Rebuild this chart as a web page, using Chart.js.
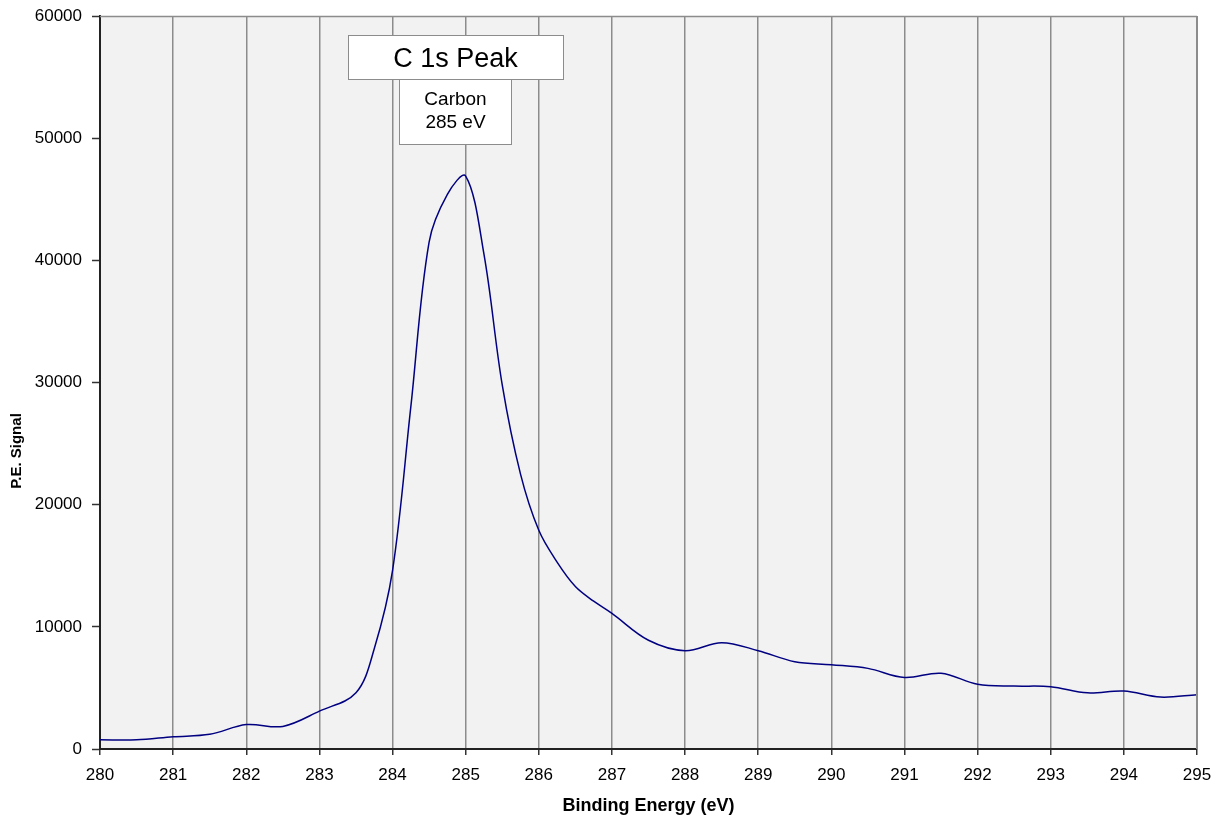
<!DOCTYPE html>
<html>
<head>
<meta charset="utf-8">
<script src="https://cdn.jsdelivr.net/npm/chart.js@4/dist/chart.umd.min.js"></script>
<style>
  html, body { margin: 0; padding: 0; background: #fff; }
  #wrap { width: 1214px; height: 818px; }
</style>
</head>
<body>
<div id="wrap"><canvas id="chart" width="1214" height="818"></canvas></div>
<script>
// binding energy (eV) and photo-electron signal
const energies = [280, 280.5, 281, 281.5, 282, 282.5, 283, 283.5, 283.75, 284, 284.25, 284.5, 284.75, 285,
  285.25, 285.5, 285.75, 286, 286.25, 286.5, 286.75, 287, 287.5, 288, 288.5, 289, 289.5, 290, 290.5,
  291, 291.5, 292, 292.5, 293, 293.5, 294, 294.5, 295];
const signal = [750, 750, 1000, 1200, 2000, 1850, 3100, 4600, 8200, 14600, 28000, 41500, 45400, 46900,
  40500, 29800, 22500, 17900, 15300, 13300, 12100, 11100, 8900, 8050, 8700, 8050, 7150, 6900, 6600,
  5850, 6200, 5300, 5150, 5100, 4600, 4750, 4250, 4450];
const xTicks = [280, 281, 282, 283, 284, 285, 286, 287, 288, 289, 290, 291, 292, 293, 294, 295];
const yTicks = [0, 10000, 20000, 30000, 40000, 50000, 60000];
const peakTitle = 'C 1s Peak';
const peakLabel = ['Carbon', '285 eV'];
const yTitle = 'P.E. Signal';

const FONT = "'Liberation Sans', Arial, Helvetica, sans-serif";

const plotBg = {
  id: 'plotBg',
  beforeDraw(chart) {
    const { ctx, chartArea: a } = chart;
    ctx.save();
    ctx.fillStyle = '#f2f2f2';
    ctx.fillRect(a.left, a.top, a.right - a.left, a.bottom - a.top);
    ctx.restore();
  },
  afterDraw(chart) {
    const { ctx, chartArea: a } = chart;
    ctx.save();
    ctx.strokeStyle = '#8c8c8c';
    ctx.lineWidth = 1.5;
    ctx.beginPath();
    ctx.moveTo(a.left, a.top + 0.5);
    ctx.lineTo(a.right, a.top + 0.5);
    ctx.stroke();
    ctx.lineWidth = 2;
    ctx.beginPath();
    ctx.moveTo(a.right, a.top);
    ctx.lineTo(a.right, a.bottom);
    ctx.stroke();

    // label boxes
    ctx.lineWidth = 1;
    ctx.strokeStyle = '#8c8c8c';
    ctx.fillStyle = '#fff';
    ctx.fillRect(399.5, 79.5, 112, 65);
    ctx.strokeRect(399.5, 79.5, 112, 65);
    ctx.fillRect(348.5, 35.5, 215, 44);
    ctx.strokeRect(348.5, 35.5, 215, 44);
    ctx.fillStyle = '#000';
    ctx.textAlign = 'center';
    ctx.textBaseline = 'alphabetic';
    ctx.font = '27px ' + FONT;
    ctx.fillText(peakTitle, 455.5, 67);
    ctx.font = '19px ' + FONT;
    ctx.fillText(peakLabel[0], 455.5, 105);
    ctx.fillText(peakLabel[1], 455.5, 128);

    // y axis title sits below the middle in the original
    ctx.translate(17, 451);
    ctx.rotate(-Math.PI / 2);
    ctx.textBaseline = 'middle';
    ctx.font = 'bold 15px ' + FONT;
    ctx.fillText(yTitle, 0, 0);
    ctx.restore();
  }
};

new Chart(document.getElementById('chart'), {
  type: 'line',
  data: {
    datasets: [{
      data: energies.map((e, i) => ({ x: e, y: signal[i] })),
      borderColor: '#000080',
      borderWidth: 1.5,
      pointRadius: 0,
      tension: 0.35,
      fill: false
    }]
  },
  options: {
    responsive: false,
    animation: false,
    layout: { padding: { top: 16, right: 17, left: 0, bottom: 0 } },
    plugins: { legend: { display: false }, tooltip: { enabled: false } },
    scales: {
      x: {
        type: 'linear',
        min: 280,
        max: 295,
        afterFit: s => { s.height = 69; s.paddingLeft = 0; s.paddingRight = 0; },
        afterBuildTicks: s => { s.ticks = xTicks.map(v => ({ value: v })); },
        grid: { color: '#8c8c8c', lineWidth: 1.5, tickLength: 6, tickColor: '#333', tickWidth: 1.5 },
        border: { color: '#222', width: 2 },
        ticks: { color: '#000', font: { family: FONT, size: 17 }, padding: 10, maxRotation: 0 },
        title: {
          display: true,
          text: 'Binding Energy (eV)',
          color: '#000',
          font: { family: FONT, size: 18, weight: 'bold' },
          padding: { top: 0, bottom: 1 }
        }
      },
      y: {
        min: 0,
        max: 60000,
        afterFit: s => { s.width = 100; s.paddingTop = 0; s.paddingBottom = 0; },
        afterBuildTicks: s => { s.ticks = yTicks.map(v => ({ value: v })); },
        grid: { drawOnChartArea: false, tickLength: 8, tickColor: '#333', tickWidth: 1.5 },
        border: { color: '#222', width: 2 },
        ticks: { color: '#000', font: { family: FONT, size: 17 }, padding: 10, callback: v => String(v) },
        title: { display: false }
      }
    }
  },
  plugins: [plotBg]
});
</script>
</body>
</html>
